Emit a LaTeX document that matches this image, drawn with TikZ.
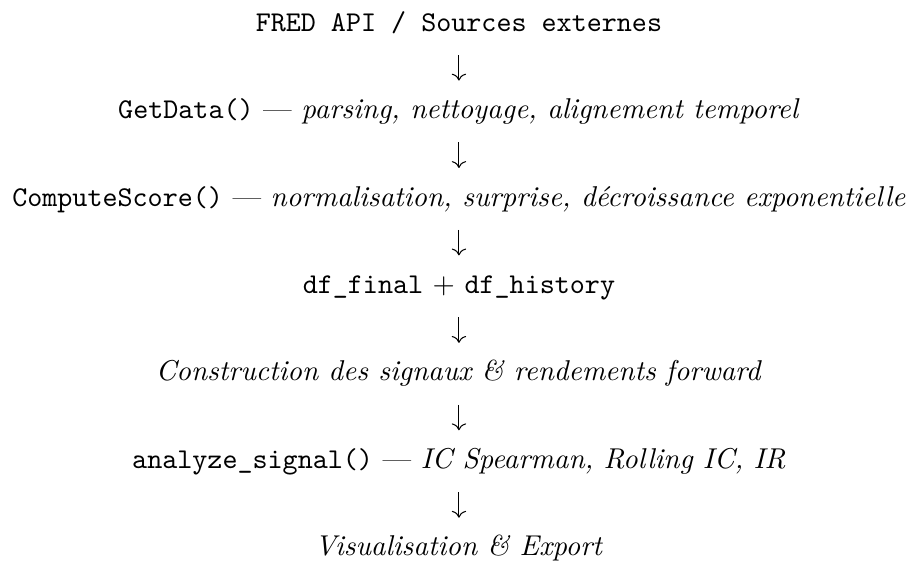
\documentclass[tikz,border=0pt]{standalone}
\usepackage{fontspec}
\usetikzlibrary{arrows.meta}
\begin{document}
\begin{tikzpicture}[
  row/.style={inner sep=0pt, text height=7pt, text depth=2pt, anchor=center},
  conn/.style={-{To}, line width=0.36pt, shorten <=6.1pt, shorten >=6.1pt}
]
\useasboundingbox (-160.1pt,8.4pt) rectangle (157.0pt,-187.6pt);
\node[row] (fred) at (0pt,0pt) {\texttt{FRED API / Sources externes}};
\node[row] (get) at (0pt,-30.5pt) {\texttt{GetData()} --- \textit{parsing, nettoyage, alignement temporel}};
\node[row] (cs) at (0pt,-61pt) {\texttt{ComputeScore()} --- \textit{normalisation, surprise, décroissance exponentielle}};
\node[row] (df) at (0pt,-91.5pt) {\texttt{df\_final} $+$ \texttt{df\_history}};
\node[row] (sig) at (0pt,-122pt) {\textit{Construction des signaux \& rendements forward}};
\node[row] (an) at (0pt,-152.5pt) {\texttt{analyze\_signal()} --- \textit{IC Spearman, Rolling IC, IR}};
\node[row] (vis) at (0pt,-183pt) {\textit{Visualisation \& Export}};
\draw[conn] (fred) -- (get);
\draw[conn] (get) -- (cs);
\draw[conn] (cs) -- (df);
\draw[conn] (df) -- (sig);
\draw[conn] (sig) -- (an);
\draw[conn] (an) -- (vis);
\end{tikzpicture}
\end{document}
